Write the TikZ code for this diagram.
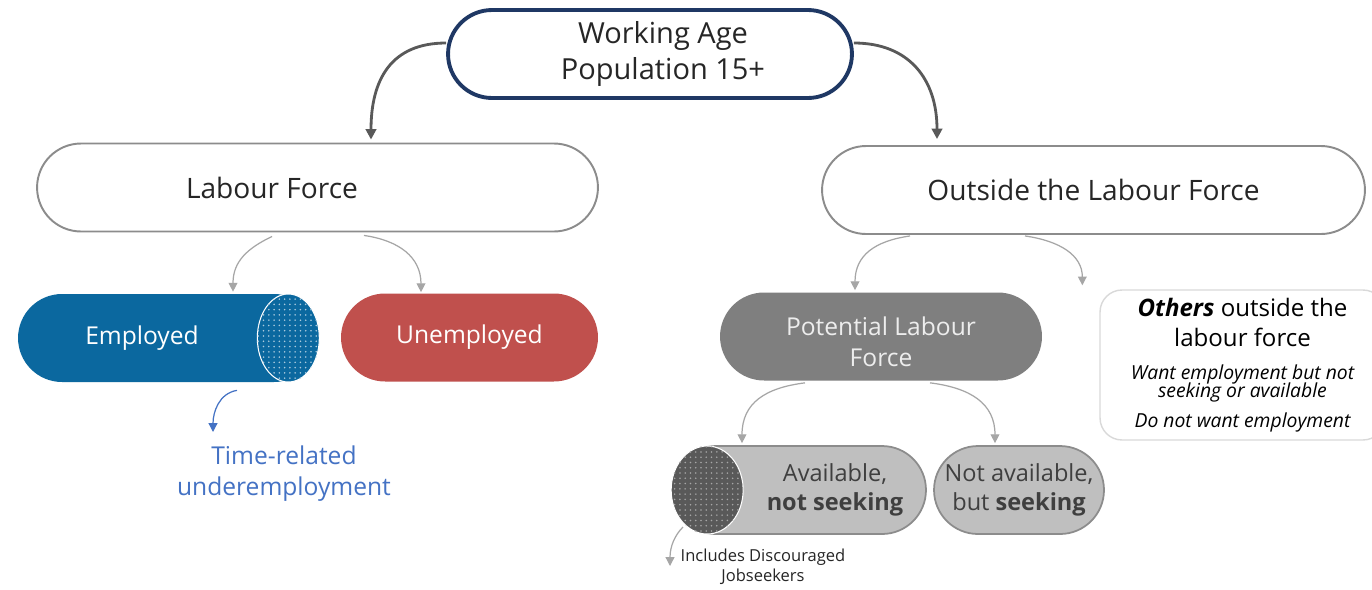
\documentclass[tikz,border=0pt]{standalone}
\usepackage{fontspec}
\setmainfont{Open Sans}
\usetikzlibrary{arrows.meta,patterns,calc}

\definecolor{navy}{HTML}{1F3864}
\definecolor{empblue}{HTML}{0B689F}
\definecolor{unred}{HTML}{C0504D}
\definecolor{potgrey}{HTML}{7F7F7F}
\definecolor{litegrey}{HTML}{BFBFBF}
\definecolor{boxgrey}{HTML}{8C8C8C}
\definecolor{othgrey}{HTML}{D9D9D9}
\definecolor{linkgrey}{HTML}{A6A6A6}
\definecolor{darkgrey}{HTML}{595959}
\definecolor{timeblue}{HTML}{4472C4}
\definecolor{textgrey}{HTML}{262626}
\definecolor{avtext}{HTML}{3F3F3F}
\definecolor{potext}{HTML}{EDEDED}

\newcommand\wapsize{\fontsize{16.5}{21}\selectfont}
\newcommand\lfsize{\fontsize{16}{19}\selectfont}
\newcommand\pillsize{\fontsize{14}{17.6}\selectfont}
\newcommand\avsize{\fontsize{13.4}{16.5}\selectfont}
\newcommand\othsize{\fontsize{13.7}{17}\selectfont}
\newcommand\itsize{\fontsize{11}{12}\selectfont}
\newcommand\notesize{\fontsize{9.4}{11.3}\selectfont}

\begin{document}
\begin{tikzpicture}[x=0.02cm,y=-0.02cm,
    pill/.style={rounded corners=0.88cm,minimum height=1.76cm,inner sep=0pt},
    mainlink/.style={-{Triangle[length=6pt,width=6pt]},line width=1.6pt,color=darkgrey},
    sublink/.style={-{Triangle[length=5pt,width=5pt]},line width=0.7pt,color=linkgrey}]
    %myborder
    \useasboundingbox[fill=white] (0,0) rectangle (1372,589);

    %toplevel
    \node[pill,draw=navy,line width=2.2pt,fill=white,minimum width=8.08cm,
      label={[xshift=0.26cm,align=center,font=\wapsize,text=textgrey]center:Working Age\\Population 15+}] (wap) at (650,54) {};
    \node[pill,draw=boxgrey,line width=1.1pt,minimum width=11.22cm,
      label={[xshift=-0.91cm,font=\lfsize,text=textgrey]center:Labour Force}] (lf) at (317.5,187.5) {};
    \node[pill,draw=boxgrey,line width=1.1pt,minimum width=10.86cm,font=\lfsize,text=textgrey] (olf) at (1093.5,190) {Outside the Labour Force};

    %labourforce
    \node[pill,fill=empblue,minimum width=6cm,
      label={[xshift=-0.52cm,font=\pillsize,text=white]center:Employed}] (emp) at (168,338) {};
    \draw[white,line width=0.6pt,fill=empblue,postaction={pattern=dots,pattern color=empblue!35!white}]
      ($(emp.east)+(-30,0)$) ellipse [x radius=31,y radius=44];
    \node[pill,fill=unred,minimum width=5.14cm,font=\pillsize,text=white] (unemp) at (469.5,337.5) {Unemployed};
    \node[font=\pillsize,text=timeblue,align=center] (time) at (284,474) {Time-related\\underemployment};

    %outside
    \node[pill,fill=potgrey,minimum width=6.44cm,
      label={[yshift=-0.1cm,align=center,font=\pillsize,text=potext]center:Potential Labour\\Force}] (plf) at (881,336.5) {};
    \node[draw=othgrey,line width=0.8pt,rounded corners=0.44cm,minimum width=5.7cm,minimum height=3cm,align=center,font=\othsize,text=black] (oth) at (1242.5,365)
      {{\bfseries\itshape Others} outside the\\labour force\\[2pt]
       {\itsize\itshape Want employment but not}\\[-7pt]
       {\itsize\itshape seeking or available}\\[0pt]
       {\itsize\itshape Do not want employment}};

    %potential
    \node[pill,draw=boxgrey,line width=1pt,fill=litegrey,minimum width=5.08cm,
      label={[xshift=0.72cm,align=center,font=\avsize,text=avtext]center:Available,\\\textbf{not seeking}}] (avail) at (799,490) {};
    \draw[white,line width=0.6pt,fill=darkgrey,postaction={pattern=dots,pattern color=linkgrey}]
      ($(avail.west)+(36,0)$) ellipse [x radius=36,y radius=44];
    \node[pill,draw=boxgrey,line width=1pt,fill=litegrey,minimum width=3.4cm,align=center,font=\avsize,text=avtext] (notav) at (1019,490) {Not available,\\but \textbf{seeking}};
    \node[font=\notesize,text=textgrey,align=center] (disc) at (763,567) {Includes Discouraged\\Jobseekers};

    %links
    \draw[mainlink] ($(wap.west)+(0,-11)$) .. controls +(-55,0) and +(0,-60) .. ($(lf.north)+(53.5,-3)$);
    \draw[mainlink] ($(wap.east)+(0,-11)$) .. controls +(55,0) and +(0,-60) .. ($(olf.north)+(-156.5,-6)$);
    \draw[sublink] ($(lf.south)+(-45.5,4)$) .. controls +(-25,12) and +(0,-30) .. ($(emp.north)+(65,-2)$);
    \draw[sublink] ($(lf.south)+(46.5,3)$) .. controls +(35,5) and +(0,-35) .. ($(unemp.north)+(-48.5,-1)$);
    \draw[sublink] ($(olf.south)+(-183.5,1)$) .. controls +(-35,5) and +(0,-35) .. ($(plf.north)+(-26,-2)$);
    \draw[sublink] ($(olf.south)+(-68.5,1)$) .. controls +(35,5) and +(0,-30) .. ($(oth.north west)+(-17,-4)$);
    \draw[sublink,color=timeblue] ($(emp.south)+(69,8)$) .. controls +(-18,3) and +(0,-20) .. ($(time.center)+(-71,-42)$);
    \draw[sublink] ($(plf.south)+(-76,2)$) .. controls +(-40,5) and +(0,-40) .. ($(avail.north)+(-57,-2)$);
    \draw[sublink] ($(plf.south)+(49,2)$) .. controls +(40,5) and +(0,-40) .. ($(notav.north)+(-24,-2)$);
    \draw[sublink] ($(avail.center)+(-116,37)$) .. controls +(-8,8) and +(0,-20) .. ($(disc.center)+(-93,-1)$);

\end{tikzpicture}
\end{document}
